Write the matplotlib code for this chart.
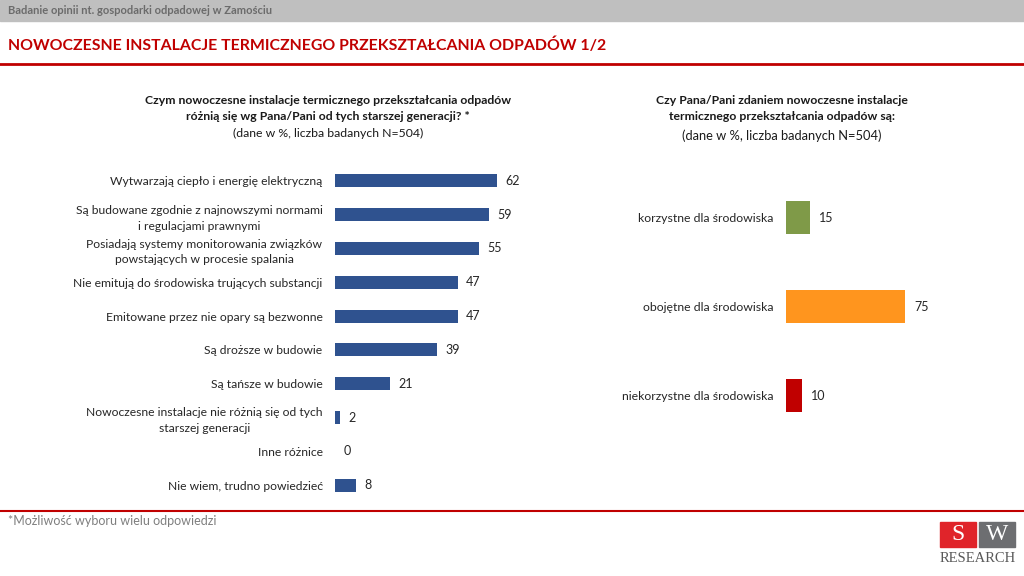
import matplotlib.pyplot as plt
import matplotlib.patches as mpatches

plt.rcParams['font.family'] = ['Lato', 'DejaVu Sans']

# left chart data
left_labels = [
    'Wytwarzają ciepło i energię elektryczną',
    'Są budowane zgodnie z najnowszymi normami\ni regulacjami prawnymi',
    'Posiadają systemy monitorowania związków\npowstających w procesie spalania',
    'Nie emitują do środowiska trujących substancji',
    'Emitowane przez nie opary są bezwonne',
    'Są droższe w budowie',
    'Są tańsze w budowie',
    'Nowoczesne instalacje nie różnią się od tych\nstarszej generacji',
    'Inne różnice',
    'Nie wiem, trudno powiedzieć',
]
left_values = [62, 59, 55, 47, 47, 39, 21, 2, 0, 8]

# right chart data
right_labels = ['korzystne dla środowiska', 'obojętne dla środowiska', 'niekorzystne dla środowiska']
right_values = [15, 75, 10]
right_colors = ['#7F9A48', '#FF951E', '#C00000']

W, H = 1024, 576
fig = plt.figure(figsize=(W / 100, H / 100), dpi=100)

def fx(px):
    return px / W

def fy(py):
    return 1 - py / H

# header band
fig.patches.append(mpatches.Rectangle((0, fy(21)), 1, 21 / H, transform=fig.transFigure,
                                      color='#BFBFBF', zorder=0))
fig.text(fx(8), fy(11), 'Badanie opinii nt. gospodarki odpadowej w Zamościu', fontsize=8,
         fontweight='bold', color='#6b6b6b', va='center', ha='left')
fig.text(fx(8), fy(45), 'NOWOCZESNE INSTALACJE TERMICZNEGO PRZEKSZTAŁCANIA ODPADÓW 1/2',
         fontsize=11.4, fontweight='bold', color='#C00000', va='center', ha='left')
fig.add_artist(plt.Line2D([0, 1], [fy(64), fy(64)], color='#C00000', lw=2, transform=fig.transFigure))
fig.add_artist(plt.Line2D([0, 1], [fy(510.5), fy(510.5)], color='#C00000', lw=1.5, transform=fig.transFigure))

# subtitles
fig.text(fx(328), fy(100), 'Czym nowoczesne instalacje termicznego przekształcania odpadów',
         fontsize=8.8, fontweight='bold', color='#1a1a1a', ha='center', va='center')
fig.text(fx(328), fy(117), 'różnią się wg Pana/Pani od tych starszej generacji? *',
         fontsize=8.8, fontweight='bold', color='#1a1a1a', ha='center', va='center')
fig.text(fx(328), fy(133), '(dane w %, liczba badanych N=504)',
         fontsize=8.8, color='#1a1a1a', ha='center', va='center')

fig.text(fx(782), fy(100), 'Czy Pana/Pani zdaniem nowoczesne instalacje',
         fontsize=8.8, fontweight='bold', color='#1a1a1a', ha='center', va='center')
fig.text(fx(782), fy(117), 'termicznego przekształcania odpadów są:',
         fontsize=8.8, fontweight='bold', color='#1a1a1a', ha='center', va='center')
fig.text(fx(782), fy(136), '(dane w %, liczba badanych N=504)',
         fontsize=9.3, color='#1a1a1a', ha='center', va='center')

# left bar chart
ax1 = fig.add_axes([fx(335), fy(502), fx(261), (502 - 164) / H])
ypos = list(range(len(left_values)))
ax1.barh(ypos, left_values, height=0.39, color='#2F528F')
for y, v in zip(ypos, left_values):
    ax1.text(v + 3.2, y, str(v), va='center', ha='left', fontsize=9, color='#262626')
ax1.set_xlim(0, 100)
ax1.set_ylim(len(left_values) - 0.5, -0.5)
ax1.set_yticks(ypos)
ax1.set_yticklabels(left_labels, fontsize=8.7, color='#262626')
for lbl in ax1.get_yticklabels():
    lbl.set_multialignment('center')
    lbl.set_linespacing(1.55)
ax1.tick_params(axis='y', length=0, pad=9)
ax1.set_xticks([])
for s in ax1.spines.values():
    s.set_visible(False)

# right bar chart
ax2 = fig.add_axes([fx(786), fy(440), fx(159), (440 - 173.5) / H])
rpos = list(range(len(right_values)))
ax2.barh(rpos, right_values, height=0.37, color=right_colors)
for y, v in zip(rpos, right_values):
    ax2.text(v + 6, y, str(v), va='center', ha='left', fontsize=9, color='#262626')
ax2.set_xlim(0, 100)
ax2.set_ylim(len(right_values) - 0.5, -0.5)
ax2.set_yticks(rpos)
ax2.set_yticklabels(right_labels, fontsize=8.8, color='#262626')
ax2.tick_params(axis='y', length=0, pad=9)
ax2.set_xticks([])
for s in ax2.spines.values():
    s.set_visible(False)

# footnote
fig.text(fx(8), fy(521), '*Możliwość wyboru wielu odpowiedzi', fontsize=9, color='#7f7f7f',
         ha='left', va='center')

# logo
fig.patches.append(mpatches.Rectangle((fx(940), fy(547)), fx(36), 25 / H, transform=fig.transFigure,
                                      color='#E0242A'))
fig.patches.append(mpatches.Rectangle((fx(979), fy(547)), fx(36), 25 / H, transform=fig.transFigure,
                                      color='#6D6E71'))
fig.text(fx(958), fy(535), 'S', fontsize=17, family='Liberation Serif', color='white',
         ha='center', va='center')
fig.text(fx(997), fy(535), 'W', fontsize=17, family='Liberation Serif', color='white',
         ha='center', va='center')
fig.text(fx(977.5), fy(559), 'RESEARCH', fontsize=10.5, family='Liberation Serif', color='#595959',
         ha='center', va='center')

fig.savefig('out.png', dpi=100)
